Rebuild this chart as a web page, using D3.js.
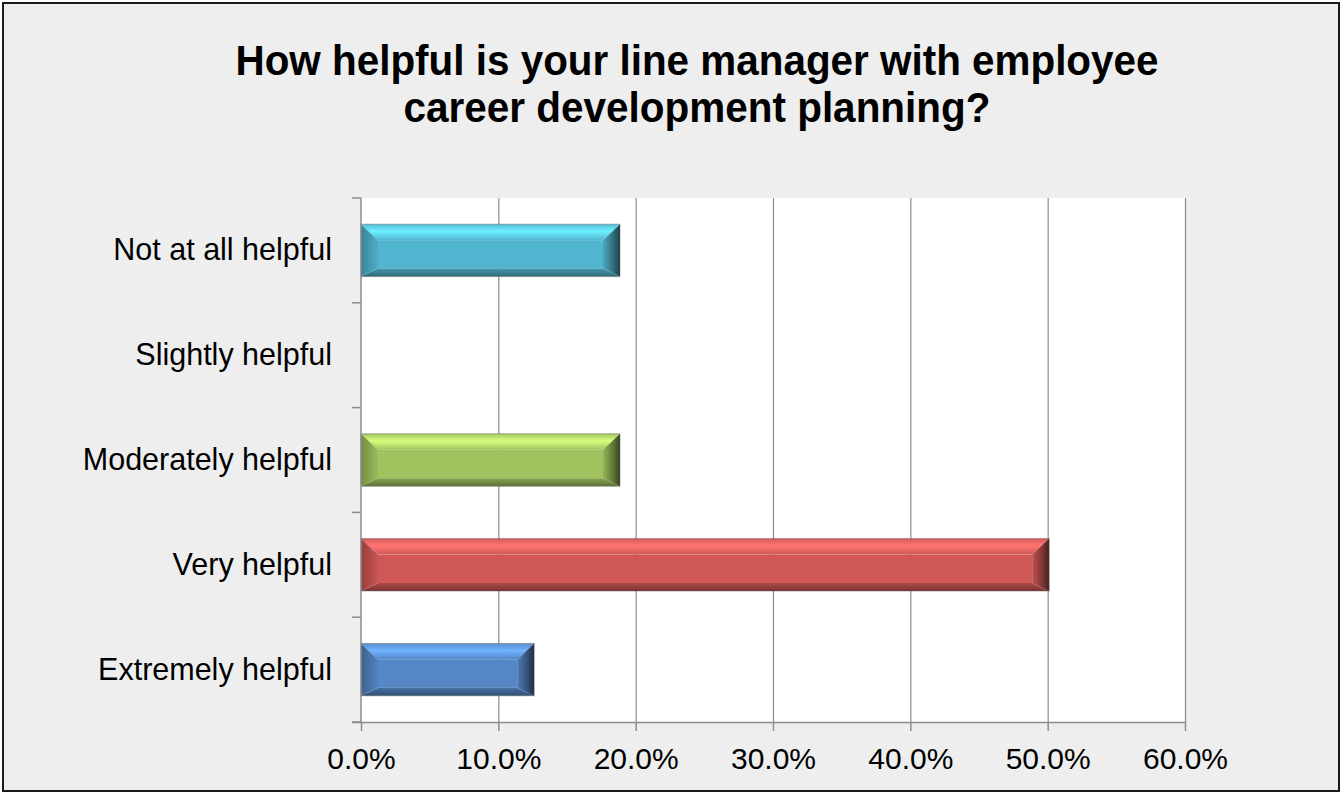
<!DOCTYPE html>
<html>
<head>
<meta charset="utf-8">
<script src="https://cdn.jsdelivr.net/npm/d3@7"></script>
<style>
    html, body { margin: 0; padding: 0; background: #fff; }
    svg { display: block; font-family: 'Liberation Sans', Arial, sans-serif; }
</style>
</head>
<body>
<svg></svg>
<script>
const WIDTH = 1342;
const HEIGHT = 793;

// data
const categories = ['Not at all helpful', 'Slightly helpful', 'Moderately helpful', 'Very helpful', 'Extremely helpful'];
const values = [18.75, 0, 18.75, 50, 12.5];
const xTicks = [0, 10, 20, 30, 40, 50, 60];
const titleLines = ['How helpful is your line manager with employee', 'career development planning?'];
const barColors = ['#52b5cf', '#a9a9a9', '#a0c35f', '#cf5856', '#5587c6'];

const plot = { left: 361, right: 1185, top: 198, bottom: 722 };

let svg = d3.select('svg')
    .attr('width', WIDTH)
    .attr('height', HEIGHT);

// chart background + frame
svg.append('rect')
    .attr('x', 3).attr('y', 3)
    .attr('width', WIDTH - 6).attr('height', HEIGHT - 5)
    .attr('fill', '#eeeeee')
    .attr('stroke', '#1a1a1a')
    .attr('stroke-width', 2);

// plot area
svg.append('rect')
    .attr('x', plot.left).attr('y', plot.top)
    .attr('width', plot.right - plot.left).attr('height', plot.bottom - plot.top)
    .attr('fill', '#ffffff');

let x = d3.scaleLinear().domain([0, 60]).range([plot.left, plot.right]);
let y = d3.scaleBand().domain(categories).range([plot.top, plot.bottom]).paddingInner(0.5).paddingOuter(0.25);

// title
svg.append('g')
    .selectAll('text')
    .data(titleLines)
    .enter()
    .append('text')
        .attr('x', 697)
        .attr('y', (d, i) => 75 + i * 47)
        .attr('text-anchor', 'middle')
        .attr('font-size', 42)
        .attr('font-weight', 'bold')
        .attr('fill', '#000')
        .attr('textLength', (d, i) => i === 0 ? 923 : 587)
        .attr('lengthAdjust', 'spacingAndGlyphs')
        .text(d => d);

// gridlines
svg.append('g')
    .selectAll('line')
    .data(xTicks.slice(1))
    .enter()
    .append('line')
        .attr('x1', d => x(d) + 0.5).attr('x2', d => x(d) + 0.5)
        .attr('y1', plot.top).attr('y2', plot.bottom)
        .attr('stroke', '#8c8c8c')
        .attr('stroke-width', 1.2);

// bars with bevel
let defs = svg.append('defs');
function grad(id, x2, y2, stops){
    let g = defs.append('linearGradient').attr('id', id)
        .attr('x1', 0).attr('y1', 0).attr('x2', x2).attr('y2', y2);
    stops.forEach(s => g.append('stop').attr('offset', s[0]).attr('stop-color', s[1]));
}
barColors.forEach((c, i) => {
    const base = d3.color(c);
    grad(`top-${i}`, 0, 1, [[0, base.brighter(0.1)], [0.45, base.brighter(0.8)], [1, base]]);
    grad(`bot-${i}`, 0, 1, [[0, base.darker(0.5)], [1, base.darker(1.5)]]);
    grad(`left-${i}`, 1, 0, [[0, base.darker(0.9)], [1, base.darker(0.1)]]);
    grad(`right-${i}`, 1, 0, [[0, base.darker(0.2)], [0.6, base.darker(1.4)], [1, base.darker(3)]]);
});

const bl = 17, bt = 16, bb = 8;
let bars = svg.append('g')
    .selectAll('g')
    .data(categories.map((c, i) => ({ cat: c, v: values[i], i: i })).filter(d => d.v > 0))
    .enter()
    .append('g');

bars.each(function(d){
    const g = d3.select(this);
    const x0 = x(0), x1 = x(d.v) + 1.5, y0 = y(d.cat), y1 = y(d.cat) + y.bandwidth();
    const pts = p => p.map(q => q.join(',')).join(' ');
    g.append('rect')
        .attr('x', x0 + bl).attr('y', y0 + bt)
        .attr('width', x1 - x0 - 2 * bl).attr('height', y1 - y0 - bt - bb)
        .attr('fill', barColors[d.i]);
    g.append('polygon').attr('points', pts([[x0, y0], [x1, y0], [x1 - bl, y0 + bt], [x0 + bl, y0 + bt]])).attr('fill', `url(#top-${d.i})`);
    g.append('polygon').attr('points', pts([[x0, y1], [x1, y1], [x1 - bl, y1 - bb], [x0 + bl, y1 - bb]])).attr('fill', `url(#bot-${d.i})`);
    g.append('polygon').attr('points', pts([[x0, y0], [x0 + bl, y0 + bt], [x0 + bl, y1 - bb], [x0, y1]])).attr('fill', `url(#left-${d.i})`);
    g.append('polygon').attr('points', pts([[x1, y0], [x1 - bl, y0 + bt], [x1 - bl, y1 - bb], [x1, y1]])).attr('fill', `url(#right-${d.i})`);
    g.append('rect')
        .attr('x', x0).attr('y', y0)
        .attr('width', x1 - x0).attr('height', y1 - y0)
        .attr('fill', 'none')
        .attr('stroke', 'rgba(90,90,90,0.45)')
        .attr('stroke-width', 1);
});

// x axis
let xAxis = svg.append('g')
    .attr('transform', `translate(0, ${plot.bottom})`)
    .call(d3.axisBottom(x).tickValues(xTicks).tickFormat(d => d.toFixed(1) + '%').tickSize(9).tickSizeOuter(0));
xAxis.select('.domain').attr('stroke', '#8c8c8c').attr('stroke-width', 1.5)
    .attr('d', `M${plot.left - 9},0.5H${plot.right}`);
xAxis.selectAll('.tick line').attr('stroke', '#8c8c8c').attr('stroke-width', 1.5);
xAxis.selectAll('.tick text')
    .attr('font-size', 30)
    .attr('font-family', "'Liberation Sans', Arial, sans-serif")
    .attr('fill', '#000')
    .attr('dy', null)
    .attr('y', 47);

// y axis: line + ticks at category boundaries
let yAxis = svg.append('g');
yAxis.append('line')
    .attr('x1', plot.left).attr('x2', plot.left)
    .attr('y1', plot.top).attr('y2', plot.bottom)
    .attr('stroke', '#8c8c8c').attr('stroke-width', 1.5);
yAxis.selectAll('line.tk')
    .data(d3.range(categories.length + 1))
    .enter()
    .append('line')
        .classed('tk', true)
        .attr('x1', plot.left - 9).attr('x2', plot.left)
        .attr('y1', i => plot.top + i * (plot.bottom - plot.top) / categories.length)
        .attr('y2', i => plot.top + i * (plot.bottom - plot.top) / categories.length)
        .attr('stroke', '#8c8c8c').attr('stroke-width', 1.5);
yAxis.selectAll('text')
    .data(categories)
    .enter()
    .append('text')
        .attr('x', 332)
        .attr('y', d => y(d) + y.bandwidth() / 2 + 10)
        .attr('text-anchor', 'end')
        .attr('font-size', 30.5)
        .attr('fill', '#000')
        .text(d => d);
</script>
</body>
</html>
